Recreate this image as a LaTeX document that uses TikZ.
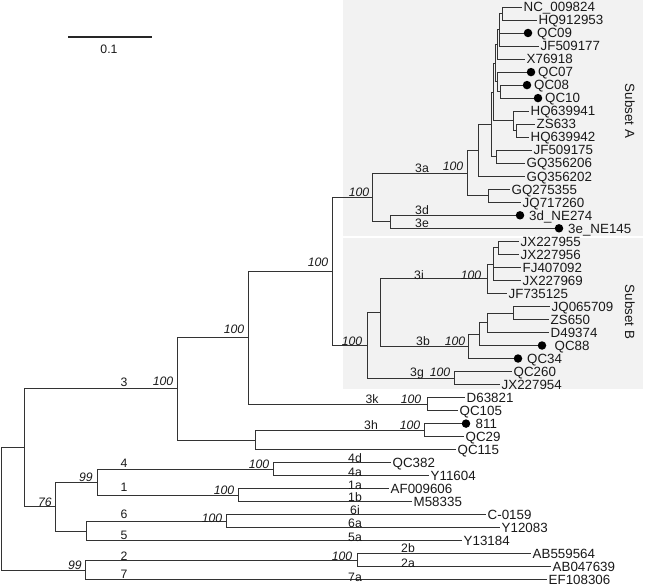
\documentclass[tikz,border=0pt]{standalone}
\usepackage{fontspec}
\setmainfont{Liberation Sans}
\newcommand\leaffont{\fontsize{13.4}{14}\selectfont}
\newcommand\labfont{\fontsize{12.3}{13}\selectfont}
\tikzset{
  br/.style={draw=black!80, line width=0.9bp},
  lt/.style={anchor=base west, inner sep=0pt, xshift=1.5bp, yshift=-4.8bp, font=\leaffont, text=black!90},
  dotm/.style={circle, fill=black, inner sep=0pt, minimum size=8.5bp},
  lab/.style={anchor=base, inner sep=0pt, yshift=-4.4bp, font=\labfont, text=black!90},
  bs/.style={anchor=base, inner sep=0pt, yshift=-4.4bp, font=\labfont\itshape, text=black!90},
  subl/.style={rotate=-90, anchor=center, inner sep=0pt, font=\leaffont, text=black!90},
  shadebox/.style={fill=black!5, draw=none},
}
\begin{document}
\begin{tikzpicture}[x=1bp,y=-1bp]
\fill[white] (0,0) rectangle (646,588);
\useasboundingbox (0,0) rectangle (646,588);
% subset shading
\fill[shadebox] (343,0) rectangle (643,236);
\fill[shadebox] (343,238) rectangle (643,389);
\node[subl] (subA) at (630,111) {Subset A};
\node[subl] (subB) at (630,312) {Subset B};
% scale bar
\coordinate (sb1) at (68,37);
\coordinate (sb2) at (152,37);
\draw[draw=black!85, line width=1.8bp] (sb1) -- (sb2);
\node[lab] (sbl) at (109,49) {0.1};
% leaf end points
\coordinate (l0) at (522,7.0);
\coordinate (l1) at (537,20.0);
\coordinate (l2) at (528,33.0);
\coordinate (l3) at (539,46.1);
\coordinate (l4) at (525,59.1);
\coordinate (l5) at (531,72.1);
\coordinate (l6) at (527,85.1);
\coordinate (l7) at (538,98.1);
\coordinate (l8) at (529,111.2);
\coordinate (l9) at (535,124.2);
\coordinate (l10) at (529,137.2);
\coordinate (l11) at (532,150.2);
\coordinate (l12) at (525,163.2);
\coordinate (l13) at (525,176.3);
\coordinate (l14) at (510,189.3);
\coordinate (l15) at (521,202.3);
\coordinate (l16) at (520,215.3);
\coordinate (l17) at (559,228.3);
\coordinate (l18) at (519,241.4);
\coordinate (l19) at (519,254.4);
\coordinate (l20) at (521,267.4);
\coordinate (l21) at (521,280.4);
\coordinate (l22) at (507,293.4);
\coordinate (l23) at (550,306.5);
\coordinate (l24) at (549,319.5);
\coordinate (l25) at (549,332.5);
\coordinate (l26) at (542,345.5);
\coordinate (l27) at (518,358.5);
\coordinate (l28) at (512,371.6);
\coordinate (l29) at (500,384.6);
\coordinate (l30) at (465,397.6);
\coordinate (l31) at (458,410.6);
\coordinate (l32) at (466,423.6);
\coordinate (l33) at (464,436.7);
\coordinate (l34) at (456,449.7);
\coordinate (l35) at (391,462.7);
\coordinate (l36) at (429,475.7);
\coordinate (l37) at (389,488.7);
\coordinate (l38) at (412,501.8);
\coordinate (l39) at (486,514.8);
\coordinate (l40) at (500,527.8);
\coordinate (l41) at (462,540.8);
\coordinate (l42) at (531,553.8);
\coordinate (l43) at (551,566.9);
\coordinate (l44) at (547,579.9);
% internal nodes
\coordinate (n01) at (502,13.5);
\coordinate (v1) at (499,29.8);
\coordinate (v) at (497,44.4);
\coordinate (w2) at (500,91.6);
\coordinate (w) at (497,81.9);
\coordinate (u) at (495,63.2);
\coordinate (h2) at (516,130.7);
\coordinate (h) at (513,120.9);
\coordinate (s) at (493,92.1);
\coordinate (t) at (496,156.7);
\coordinate (r) at (491,124.4);
\coordinate (p) at (478,150.4);
\coordinate (q) at (488,195.8);
\coordinate (n3a) at (467,173.1);
\coordinate (n3de) at (390,221.8);
\coordinate (n3ade) at (372,197.5);
\coordinate (b55) at (498,247.9);
\coordinate (bsub) at (493,264.2);
\coordinate (n3i) at (487,278.8);
\coordinate (c3) at (513,313);
\coordinate (c2) at (487,322.8);
\coordinate (c1) at (479,334.2);
\coordinate (n3b) at (468,346.3);
\coordinate (bb) at (380,312.6);
\coordinate (n3g) at (454,378.1);
\coordinate (nB) at (367,345.3);
\coordinate (nAB) at (332,271.4);
\coordinate (n3k) at (427,404.1);
\coordinate (nABk) at (248,337.8);
\coordinate (n3h) at (424,430.2);
\coordinate (nh) at (255,440);
\coordinate (n3) at (177,388.9);
\coordinate (n4) at (273,469.2);
\coordinate (n1) at (238,495.3);
\coordinate (n41) at (97,482.2);
\coordinate (n6) at (226,521.3);
\coordinate (n65) at (86,531.1);
\coordinate (n4165) at (55,506.6);
\coordinate (nA) at (24,447.8);
\coordinate (n2) at (357,560.4);
\coordinate (n27) at (85,570.1);
\coordinate (root) at (1,509);
% branches
\foreach \a/\b in {root/nA, root/n27, nA/n3, nA/n4165, n3/nABk, n3/nh,
  nABk/nAB, nABk/n3k, nAB/n3ade, nAB/nB, n3ade/n3a, n3ade/n3de,
  n3a/p, n3a/q, p/r, p/l13, r/s, r/t, s/u, s/h, u/v, u/w, v/v1, v/l4,
  v1/n01, v1/l2, v1/l3, n01/l0, n01/l1, w/l5, w/w2, w2/l6, w2/l7,
  h/l8, h/h2, h2/l9, h2/l10, t/l11, t/l12, q/l14, q/l15, n3de/l16, n3de/l17,
  nB/bb, nB/n3g, bb/n3i, bb/n3b, n3i/bsub, n3i/l22, bsub/b55, bsub/l20, bsub/l21,
  b55/l18, b55/l19, n3b/c1, n3b/l27, c1/c2, c1/l26, c2/c3, c2/l25, c3/l23, c3/l24,
  n3g/l28, n3g/l29, n3k/l30, n3k/l31, nh/n3h, nh/l34, n3h/l32, n3h/l33,
  n4165/n41, n4165/n65, n41/n4, n41/n1, n4/l35, n4/l36, n1/l37, n1/l38,
  n65/n6, n65/l41, n6/l39, n6/l40, n27/n2, n27/l44, n2/l42, n2/l43}
  \draw[br] (\a) |- (\b);
% dots
\foreach \d in {l2,l5,l6,l7,l16,l17,l26,l27,l32}
  \node[dotm] (d\d) at (\d) {};
% leaf labels
\node[lt] (t0) at (l0) {NC\_009824};
\node[lt] (t1) at (l1) {HQ912953};
\node[lt, xshift=7.5bp] (t2) at (l2) {QC09};
\node[lt] (t3) at (l3) {JF509177};
\node[lt] (t4) at (l4) {X76918};
\node[lt, xshift=5.5bp] (t5) at (l5) {QC07};
\node[lt, xshift=5.5bp] (t6) at (l6) {QC08};
\node[lt, xshift=5.5bp] (t7) at (l7) {QC10};
\node[lt] (t8) at (l8) {HQ639941};
\node[lt] (t9) at (l9) {ZS633};
\node[lt] (t10) at (l10) {HQ639942};
\node[lt] (t11) at (l11) {JF509175};
\node[lt] (t12) at (l12) {GQ356206};
\node[lt] (t13) at (l13) {GQ356202};
\node[lt] (t14) at (l14) {GQ275355};
\node[lt] (t15) at (l15) {JQ717260};
\node[lt, xshift=7.5bp] (t16) at (l16) {3d\_NE274};
\node[lt, xshift=7.5bp] (t17) at (l17) {3e\_NE145};
\node[lt] (t18) at (l18) {JX227955};
\node[lt] (t19) at (l19) {JX227956};
\node[lt] (t20) at (l20) {FJ407092};
\node[lt] (t21) at (l21) {JX227969};
\node[lt] (t22) at (l22) {JF735125};
\node[lt] (t23) at (l23) {JQ065709};
\node[lt] (t24) at (l24) {ZS650};
\node[lt] (t25) at (l25) {D49374};
\node[lt, xshift=11bp] (t26) at (l26) {QC88};
\node[lt, xshift=7.5bp] (t27) at (l27) {QC34};
\node[lt] (t28) at (l28) {QC260};
\node[lt] (t29) at (l29) {JX227954};
\node[lt] (t30) at (l30) {D63821};
\node[lt] (t31) at (l31) {QC105};
\node[lt, xshift=8bp] (t32) at (l32) {811};
\node[lt] (t33) at (l33) {QC29};
\node[lt] (t34) at (l34) {QC115};
\node[lt] (t35) at (l35) {QC382};
\node[lt] (t36) at (l36) {Y11604};
\node[lt] (t37) at (l37) {AF009606};
\node[lt] (t38) at (l38) {M58335};
\node[lt] (t39) at (l39) {C-0159};
\node[lt] (t40) at (l40) {Y12083};
\node[lt] (t41) at (l41) {Y13184};
\node[lt] (t42) at (l42) {AB559564};
\node[lt] (t43) at (l43) {AB047639};
\node[lt] (t44) at (l44) {EF108306};
% bootstrap values
\node[bs] (b3a) at (453,166) {100};
\node[bs] (b3ade) at (359,192) {100};
\node[bs] (bAB) at (318,262) {100};
\node[bs] (bABk) at (234,329) {100};
\node[bs] (bB) at (352,341) {100};
\node[bs] (b3i) at (471,275) {100};
\node[bs] (b3b) at (455,341) {100};
\node[bs] (b3g) at (440,372) {100};
\node[bs] (b3k) at (411,399) {100};
\node[bs] (b3h) at (410,425) {100};
\node[bs] (b3) at (163,381) {100};
\node[bs] (b4) at (259,464) {100};
\node[bs] (b41) at (86,477) {99};
\node[bs] (b1) at (224,490) {100};
\node[bs] (b4165) at (45,502) {76};
\node[bs] (b6) at (212,518) {100};
\node[bs] (b2) at (342,556) {100};
\node[bs] (b27) at (75,565) {99};
% genotype / subtype labels
\node[lab] (g3a) at (422,168) {3a};
\node[lab] (g3d) at (422,210) {3d};
\node[lab] (g3e) at (422,223) {3e};
\node[lab] (g3i) at (419,275) {3i};
\node[lab] (g3b) at (423,341) {3b};
\node[lab] (g3g) at (417,372) {3g};
\node[lab] (g3k) at (372,399) {3k};
\node[lab] (g3h) at (371,425) {3h};
\node[lab] (g3) at (124,382) {3};
\node[lab] (g4) at (124,463) {4};
\node[lab] (g1) at (124,487) {1};
\node[lab] (g6) at (124,514) {6};
\node[lab] (g5) at (124,535) {5};
\node[lab] (g2) at (124,556) {2};
\node[lab] (g7) at (124,574) {7};
\node[lab] (g4d) at (355,458) {4d};
\node[lab] (g4a) at (355,472) {4a};
\node[lab] (g1a) at (355,485) {1a};
\node[lab] (g1b) at (355,497) {1b};
\node[lab] (g6i) at (355,510) {6i};
\node[lab] (g6a) at (355,523) {6a};
\node[lab] (g5a) at (355,537) {5a};
\node[lab] (g2b) at (408,548) {2b};
\node[lab] (g2a) at (408,563) {2a};
\node[lab] (g7a) at (355,577) {7a};
\end{tikzpicture}
\end{document}
